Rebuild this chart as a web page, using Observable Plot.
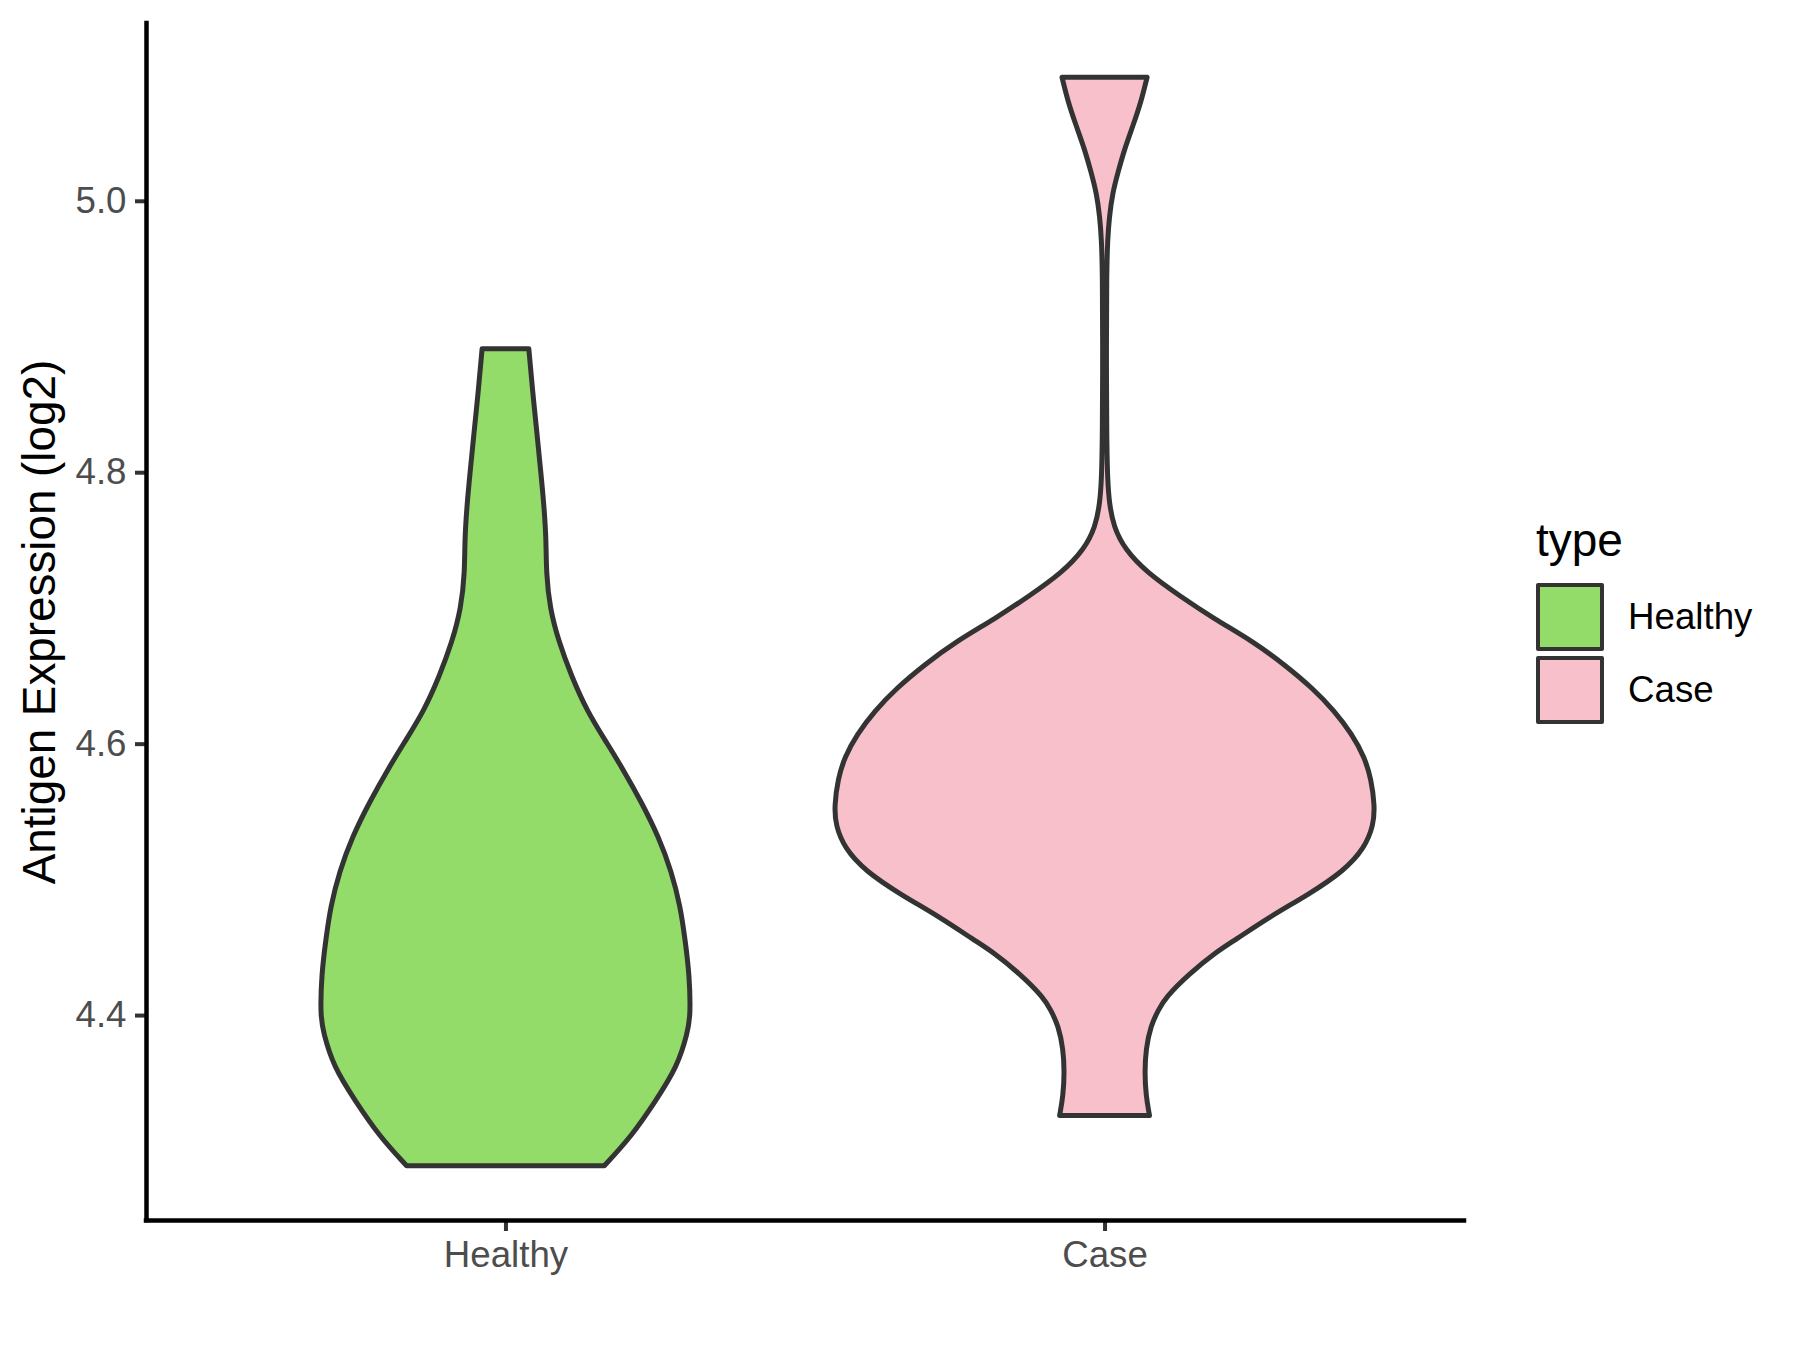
<!DOCTYPE html>
<html>
<head>
<meta charset="utf-8">
<script src="https://cdn.jsdelivr.net/npm/d3@7"></script>
<script src="https://cdn.jsdelivr.net/npm/@observablehq/plot@0.6"></script>
<style>
  html, body { margin: 0; padding: 0; background: #fff; }
  #wrap { position: relative; width: 1800px; height: 1350px; font-family: "Liberation Sans", Arial, sans-serif; }
  #legend { position: absolute; left: 1536px; top: 510px; }
  #legend .title { font-size: 46px; color: #000; line-height: 60px; margin-bottom: 11px; }
  #legend .row { display: flex; align-items: center; height: 72px; margin-top: 1px; }
  #legend .key { width: 60px; height: 60px; border: 4px solid #333; border-radius: 2px; box-sizing: content-box; }
  #legend .lab { font-size: 36.7px; color: #000; margin-left: 24px; }
</style>
</head>
<body>
<div id="wrap"></div>
<script>
const categories = ["Healthy", "Case"];
const colors = ["#93DC6A", "#F8C0CB"];
const yTicks = [4.4, 4.6, 4.8, 5.0];
const yTitle = "Antigen Expression (log2)";
const legendTitle = "type";

// violin outlines: expression value and half-width (in category units)
const healthyValue = [4.289, 4.311, 4.337, 4.362, 4.387, 4.400, 4.430, 4.455, 4.480, 4.506, 4.531, 4.557, 4.582, 4.600, 4.624, 4.650, 4.675, 4.700, 4.726, 4.751, 4.777, 4.800, 4.827, 4.861, 4.891];
const healthyHalfWidth = [0.165, 0.211, 0.251, 0.287, 0.304, 0.309, 0.307, 0.300, 0.292, 0.277, 0.256, 0.227, 0.195, 0.170, 0.136, 0.110, 0.089, 0.074, 0.068, 0.068, 0.064, 0.059, 0.053, 0.045, 0.039];

const caseValue = [4.326, 4.341, 4.358, 4.375, 4.392, 4.404, 4.413, 4.430, 4.447, 4.455, 4.472, 4.489, 4.506, 4.523, 4.540, 4.554, 4.574, 4.590, 4.607, 4.624, 4.641, 4.658, 4.675, 4.692, 4.709, 4.726, 4.743, 4.760, 4.777, 4.794, 4.827, 4.895, 4.946, 4.971, 4.988, 5.005, 5.022, 5.039, 5.056, 5.073, 5.091];
const caseHalfWidth = [0.075, 0.069, 0.067, 0.069, 0.077, 0.090, 0.102, 0.140, 0.188, 0.217, 0.274, 0.341, 0.399, 0.434, 0.449, 0.451, 0.445, 0.434, 0.413, 0.384, 0.347, 0.301, 0.249, 0.183, 0.125, 0.071, 0.034, 0.015, 0.008, 0.005, 0.0035, 0.003, 0.0035, 0.005, 0.008, 0.013, 0.023, 0.034, 0.048, 0.061, 0.071];

const rows = [];
healthyValue.forEach((v, i) => rows.push({type: "Healthy", pos: 1, y: v, w: healthyHalfWidth[i]}));
caseValue.forEach((v, i) => rows.push({type: "Case", pos: 2, y: v, w: caseHalfWidth[i]}));

const font = "'Liberation Sans', Arial, sans-serif";
const yDomain = [4.249, 5.131];
const xDomain = [0.4, 2.6];

const chart = Plot.plot({
  width: 1800,
  height: 1350,
  marginLeft: 146,
  marginRight: 336,
  marginTop: 23,
  marginBottom: 130,
  style: {fontFamily: font, background: "#fff"},
  x: {type: "linear", domain: xDomain},
  y: {domain: yDomain},
  color: {domain: categories, range: colors},
  marks: [
    Plot.areaX(rows, {
      y: "y",
      x1: d => d.pos - d.w,
      x2: d => d.pos + d.w,
      z: "type",
      fill: "type",
      stroke: "#333333",
      strokeWidth: 5,
      strokeLinejoin: "round",
      curve: "basis"
    }),
    Plot.axisY({
      ticks: yTicks,
      tickFormat: d => d.toFixed(1),
      tickSize: 11,
      tickPadding: 9,
      strokeWidth: 4,
      stroke: "#333333",
      fill: "#4d4d4d",
      fontSize: 36.7,
      label: null
    }),
    Plot.axisX({
      ticks: [1, 2],
      tickFormat: d => categories[d - 1],
      tickSize: 11,
      tickPadding: 9,
      strokeWidth: 4,
      stroke: "#333333",
      fill: "#4d4d4d",
      fontSize: 36.7,
      label: null
    }),
    Plot.ruleX([xDomain[0]], {stroke: "#000", strokeWidth: 4.5, strokeLinecap: "square"}),
    Plot.ruleY([yDomain[0]], {stroke: "#000", strokeWidth: 4.5, strokeLinecap: "square"}),
    Plot.text([yTitle], {
      frameAnchor: "left",
      textAnchor: "middle",
      rotate: -90,
      dx: -106,
      fontSize: 45.8,
      fill: "#000"
    })
  ]
});

const wrap = document.getElementById("wrap");
wrap.appendChild(chart);

const legend = document.createElement("div");
legend.id = "legend";
const t = document.createElement("div");
t.className = "title";
t.textContent = legendTitle;
legend.appendChild(t);
categories.forEach((c, i) => {
  const r = document.createElement("div");
  r.className = "row";
  const k = document.createElement("div");
  k.className = "key";
  k.style.background = colors[i];
  const l = document.createElement("div");
  l.className = "lab";
  l.textContent = c;
  r.appendChild(k);
  r.appendChild(l);
  legend.appendChild(r);
});
wrap.appendChild(legend);
</script>
</body>
</html>
